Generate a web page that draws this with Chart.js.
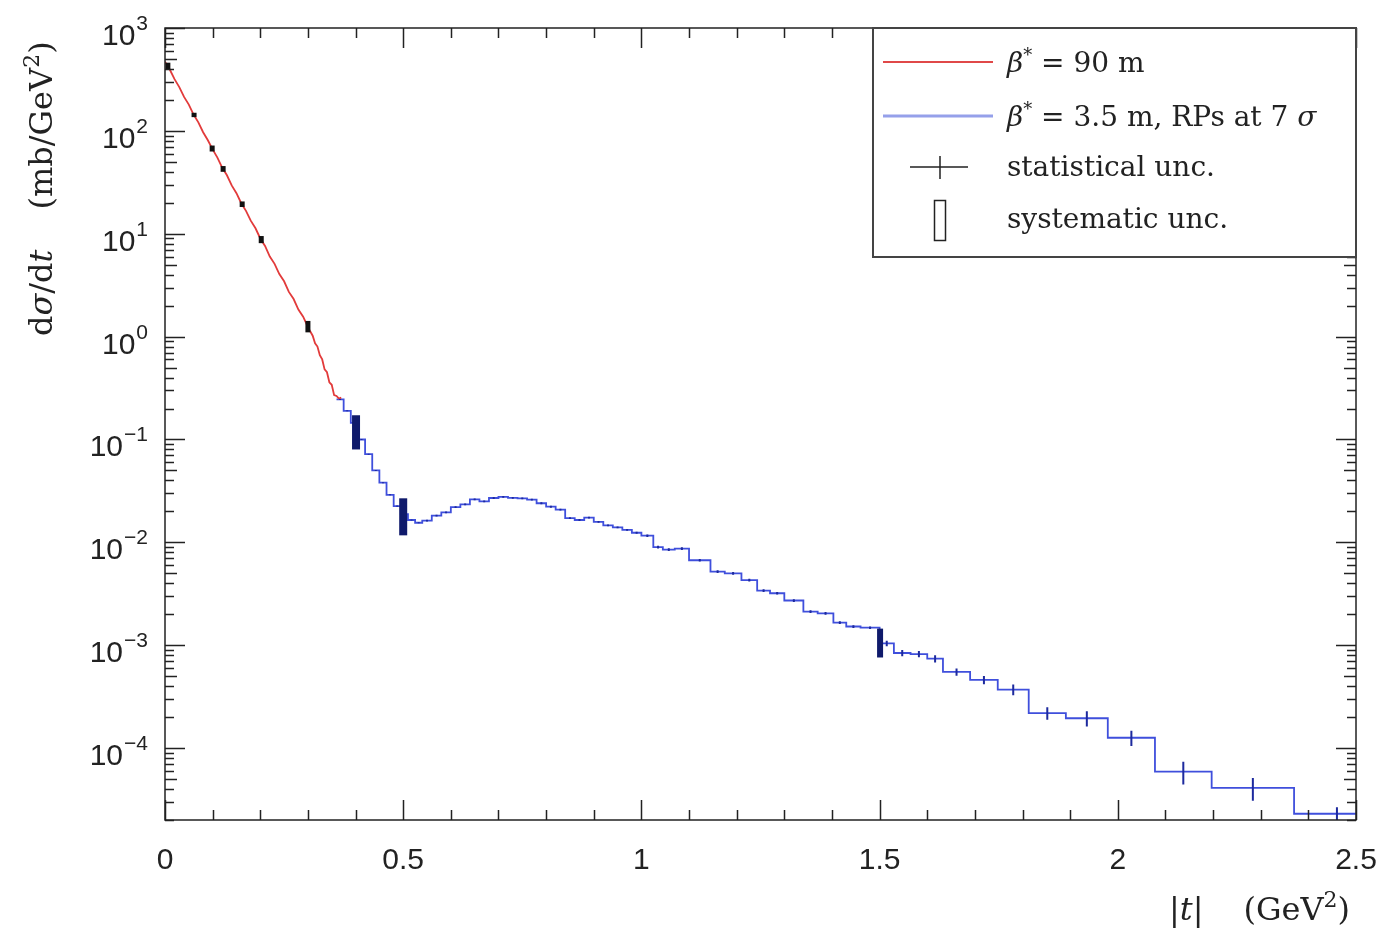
<!DOCTYPE html>
<html>
<head>
<meta charset="utf-8">
<script src="https://cdn.jsdelivr.net/npm/chart.js@4.4.1/dist/chart.umd.min.js"></script>
<style>
html, body { margin: 0; padding: 0; background: #fff; overflow: hidden; }
</style>
</head>
<body>
<canvas id="myChart" width="1381" height="942"></canvas>
<script>
// beta* = 90 m (fine bins, drawn as a line)
var redT = [0.000, 0.010, 0.020, 0.030, 0.040, 0.050, 0.060, 0.070, 0.080, 0.090,
            0.100, 0.110, 0.120, 0.130, 0.140, 0.150, 0.160, 0.170, 0.180, 0.190,
            0.200, 0.210, 0.220, 0.230, 0.240, 0.250, 0.260, 0.270, 0.280, 0.290,
            0.300, 0.305, 0.310, 0.315, 0.320, 0.325, 0.330, 0.335, 0.340, 0.345,
            0.350, 0.355, 0.360, 0.365, 0.370];
var redV = [470, 395, 318, 266, 214, 180, 144, 121, 97, 81,
            66, 55, 44, 37, 29.5, 24.8, 19.8, 16.7, 13.4, 11.3,
            9.0, 7.6, 6.0, 5.1, 4.05, 3.45, 2.72, 2.32, 1.83, 1.56,
            1.24, 1.12, 1.02, 0.86, 0.80, 0.66, 0.60, 0.48, 0.45, 0.36,
            0.34, 0.27, 0.265, 0.25, 0.255];

// beta* = 3.5 m histogram: bin edges, contents, relative stat. errors
var blueEdges = [0.360, 0.375, 0.390, 0.405, 0.420, 0.435, 0.450, 0.465, 0.480, 0.495,
                 0.510, 0.525, 0.540, 0.560, 0.580, 0.600, 0.620, 0.640, 0.660, 0.680,
                 0.700, 0.720, 0.740, 0.760, 0.780, 0.800, 0.820, 0.840, 0.860, 0.880,
                 0.900, 0.920, 0.940, 0.960, 0.980, 1.000, 1.025, 1.045, 1.070, 1.100,
                 1.145, 1.175, 1.210, 1.243, 1.270, 1.300, 1.340, 1.370, 1.403, 1.430,
                 1.460, 1.500, 1.530, 1.565, 1.600, 1.633, 1.690, 1.748, 1.813, 1.891,
                 1.979, 2.078, 2.197, 2.370, 2.550];
var blueVals = [0.245, 0.190, 0.145, 0.100, 0.072, 0.050, 0.038, 0.029, 0.0225, 0.0188,
                0.0165, 0.0155, 0.0163, 0.0182, 0.0196, 0.0220, 0.0234, 0.0262, 0.0250, 0.0270,
                0.0277, 0.0271, 0.0268, 0.0260, 0.0240, 0.0222, 0.0208, 0.0172, 0.0165, 0.0174,
                0.0158, 0.0146, 0.0140, 0.0132, 0.0124, 0.0116, 0.0090, 0.0085, 0.0087, 0.0067,
                0.0052, 0.0050, 0.0043, 0.0034, 0.0032, 0.00272, 0.00212, 0.00204, 0.00166, 0.00152,
                0.00148, 0.00104, 0.00084, 0.00082, 0.00074, 0.00055, 0.00046, 0.00037, 0.000219, 0.000195,
                0.000126, 0.000059, 0.000041, 0.000023];
var blueErr = [0.012, 0.012, 0.012, 0.012, 0.012, 0.012, 0.012, 0.012, 0.012, 0.012,
               0.012, 0.012, 0.02, 0.02, 0.02, 0.02, 0.02, 0.02, 0.02, 0.02,
               0.02, 0.02, 0.02, 0.02, 0.02, 0.02, 0.02, 0.02, 0.02, 0.02,
               0.02, 0.02, 0.02, 0.02, 0.02, 0.03, 0.03, 0.03, 0.03, 0.03,
               0.03, 0.03, 0.03, 0.03, 0.03, 0.03, 0.03, 0.03, 0.03, 0.03,
               0.03, 0.06, 0.07, 0.07, 0.08, 0.08, 0.09, 0.12, 0.14, 0.17,
               0.17, 0.25, 0.25, 0.16];

// systematic uncertainty boxes
var redSysT  = [0.006, 0.061, 0.099, 0.122, 0.162, 0.202, 0.300];
var redSysLo = [395, 136, 63, 40, 18.2, 8.1, 1.10];
var redSysHi = [460, 150, 72, 45.5, 20.6, 9.5, 1.42];
var blueSysT  = [0.401, 0.500, 1.501];
var blueSysLo = [0.080, 0.0117, 0.00076];
var blueSysHi = [0.172, 0.0268, 0.00145];

var xTicks = [0, 0.5, 1, 1.5, 2, 2.5];
var xTickLabels = ['0', '0.5', '1', '1.5', '2', '2.5'];
var yDecades = [3, 2, 1, 0, -1, -2, -3, -4];
var yMin = 2e-5, yMax = 1000;

var sansF = '"Liberation Sans", Arial, sans-serif';
var serifF = '"DejaVu Serif", serif';

// text made of pieces (font changes, superscripts)
function texto(ctx, x, y, partes, alinhar) {
  var total = 0;
  partes.forEach(function(p) {
    if (p.gap) { p.w = p.gap; } else { ctx.font = p.f; p.w = ctx.measureText(p.s).width; }
    total += p.w;
  });
  var cx = alinhar === 'right' ? x - total : (alinhar === 'center' ? x - total / 2 : x);
  partes.forEach(function(p) {
    if (!p.gap) { ctx.font = p.f; ctx.fillText(p.s, cx, y + (p.dy || 0)); }
    cx += p.w;
  });
}

var extras = {
  id: 'extras',
  afterDatasetsDraw: function(chart) {
    var ctx = chart.ctx, a = chart.chartArea, sx = chart.scales.x, sy = chart.scales.y;
    ctx.save();
    ctx.beginPath();
    ctx.rect(a.left, a.top, a.right - a.left, a.bottom - a.top);
    ctx.clip();

    // statistical error bars
    ctx.strokeStyle = '#1d2a9e';
    ctx.lineWidth = 2;
    ctx.beginPath();
    blueVals.forEach(function(v, i) {
      var c = (blueEdges[i] + blueEdges[i + 1]) / 2;
      var px = sx.getPixelForValue(c);
      ctx.moveTo(px, sy.getPixelForValue(v * (1 - blueErr[i])));
      ctx.lineTo(px, sy.getPixelForValue(v * (1 + blueErr[i])));
    });
    ctx.stroke();

    // systematic boxes
    ctx.fillStyle = '#111';
    redSysT.forEach(function(t, i) {
      var px = sx.getPixelForValue(t);
      var y1 = sy.getPixelForValue(redSysHi[i]), y2 = sy.getPixelForValue(redSysLo[i]);
      ctx.fillRect(px - 2.5, y1, 5, Math.max(3, y2 - y1));
    });
    ctx.fillStyle = '#0f1a6b';
    blueSysT.forEach(function(t, i) {
      var px = sx.getPixelForValue(t);
      var y1 = sy.getPixelForValue(blueSysHi[i]), y2 = sy.getPixelForValue(blueSysLo[i]);
      var w = i < 2 ? 8 : 6;
      ctx.fillRect(px - w / 2, y1, w, y2 - y1);
    });
    ctx.restore();
  },
  afterDraw: function(chart) {
    var ctx = chart.ctx, a = chart.chartArea, sx = chart.scales.x, sy = chart.scales.y;
    ctx.save();

    // frame and inward ticks
    ctx.strokeStyle = '#222';
    ctx.lineWidth = 1.5;
    ctx.beginPath();
    for (var i = 0; i <= 25; i++) {
      var px = Math.round(sx.getPixelForValue(i / 10)) + 0.5;
      var len = (i % 5 === 0) ? 20 : 10;
      ctx.moveTo(px, a.bottom); ctx.lineTo(px, a.bottom - len);
      ctx.moveTo(px, a.top); ctx.lineTo(px, a.top + len);
    }
    for (var n = -5; n <= 3; n++) {
      for (var k = 1; k <= 9; k++) {
        var v = k * Math.pow(10, n);
        if (v < yMin * 0.999 || v > yMax * 1.001) continue;
        var py = Math.round(sy.getPixelForValue(v)) + 0.5;
        var l2 = k === 1 ? 20 : (k === 5 ? 12 : 9);
        ctx.moveTo(a.left, py); ctx.lineTo(a.left + l2, py);
        ctx.moveTo(a.right, py); ctx.lineTo(a.right - l2, py);
      }
    }
    ctx.stroke();
    ctx.strokeRect(a.left, a.top, a.right - a.left, a.bottom - a.top);

    // tick labels
    ctx.fillStyle = '#222';
    ctx.textBaseline = 'alphabetic';
    xTicks.forEach(function(t, i) {
      texto(ctx, sx.getPixelForValue(t), 869, [{ s: xTickLabels[i], f: '30px ' + sansF }], 'center');
    });
    yDecades.forEach(function(n) {
      var py = sy.getPixelForValue(Math.pow(10, n));
      var ex = n < 0 ? '\u2212' + (-n) : String(n);
      texto(ctx, 148, py + 17, [
        { s: '10', f: '30px ' + sansF },
        { gap: 1 },
        { s: ex, f: '21px ' + sansF, dy: -15 }
      ], 'right');
    });

    // axis titles
    var tf = '32px ' + serifF, ti = 'italic 32px ' + serifF, ts = '22px ' + serifF;
    ctx.save();
    ctx.translate(52, 336);
    ctx.rotate(-Math.PI / 2);
    texto(ctx, 0, 0, [
      { s: 'd', f: tf }, { s: '\u03c3', f: ti }, { s: '/d', f: tf }, { s: 't', f: ti },
      { gap: 40 },
      { s: '(mb/GeV', f: tf }, { s: '2', f: ts, dy: -13 }, { s: ')', f: tf }
    ], 'left');
    ctx.restore();
    texto(ctx, 1350, 920, [
      { s: '|', f: tf }, { s: 't', f: ti }, { s: '|', f: tf },
      { gap: 40 },
      { s: '(GeV', f: tf }, { s: '2', f: ts, dy: -13 }, { s: ')', f: tf }
    ], 'right');

    // legend
    var lx = 873, ly = a.top, lw = a.right - lx, lh = 257 - a.top;
    ctx.fillStyle = '#fff';
    ctx.fillRect(lx, ly, lw, lh);
    ctx.strokeStyle = '#444';
    ctx.lineWidth = 2;
    ctx.strokeRect(lx, ly, lw, lh);

    ctx.lineWidth = 2;
    ctx.strokeStyle = '#e04848';
    ctx.beginPath(); ctx.moveTo(883, 62); ctx.lineTo(993, 62); ctx.stroke();
    ctx.lineWidth = 3;
    ctx.strokeStyle = '#95a0ea';
    ctx.beginPath(); ctx.moveTo(883, 116); ctx.lineTo(993, 116); ctx.stroke();
    ctx.lineWidth = 1.5;
    ctx.strokeStyle = '#222';
    ctx.beginPath();
    ctx.moveTo(910, 167); ctx.lineTo(968, 167);
    ctx.moveTo(940, 156); ctx.lineTo(940, 179);
    ctx.stroke();
    ctx.strokeRect(934.5, 200.5, 11, 40);

    var lf = '28px ' + serifF, li = 'italic 28px ' + serifF, lsup = '18px ' + serifF;
    ctx.fillStyle = '#222';
    texto(ctx, 1007, 72, [
      { s: '\u03b2', f: li }, { s: '*', f: lsup, dy: -11 }, { s: ' = 90 m', f: lf }
    ], 'left');
    texto(ctx, 1007, 126, [
      { s: '\u03b2', f: li }, { s: '*', f: lsup, dy: -11 }, { s: ' = 3.5 m, RPs at 7 ', f: lf },
      { s: '\u03c3', f: li }
    ], 'left');
    texto(ctx, 1007, 176, [{ s: 'statistical unc.', f: lf }], 'left');
    texto(ctx, 1007, 228, [{ s: 'systematic unc.', f: lf }], 'left');

    ctx.restore();
  }
};

var redPts = redT.map(function(t, i) { return { x: t, y: redV[i] }; });
var bluePts = blueVals.map(function(v, i) { return { x: blueEdges[i], y: v }; });
bluePts.push({ x: blueEdges[blueEdges.length - 1], y: blueVals[blueVals.length - 1] });

var ctx = document.getElementById('myChart').getContext('2d');
var chart = new Chart(ctx, {
  type: 'line',
  data: {
    datasets: [{
      label: '\u03b2* = 90 m',
      data: redPts,
      borderColor: '#e23b3b',
      borderWidth: 1.8,
      pointRadius: 0,
      tension: 0
    }, {
      label: '\u03b2* = 3.5 m, RPs at 7 \u03c3',
      data: bluePts,
      borderColor: '#3f4fdc',
      borderWidth: 1.8,
      pointRadius: 0,
      stepped: 'before'
    }]
  },
  options: {
    responsive: false,
    animation: false,
    layout: { padding: { top: 28, right: 25, left: 0, bottom: 0 } },
    plugins: { legend: { display: false }, tooltip: { enabled: false } },
    scales: {
      x: {
        type: 'linear', min: 0, max: 2.5,
        ticks: { display: false },
        grid: { display: false, drawTicks: false },
        border: { display: false },
        afterFit: function(s) { s.height = 122; }
      },
      y: {
        type: 'logarithmic', min: yMin, max: yMax,
        ticks: { display: false },
        grid: { display: false, drawTicks: false },
        border: { display: false },
        afterFit: function(s) { s.width = 165; }
      }
    }
  },
  plugins: [extras]
});
</script>
</body>
</html>
